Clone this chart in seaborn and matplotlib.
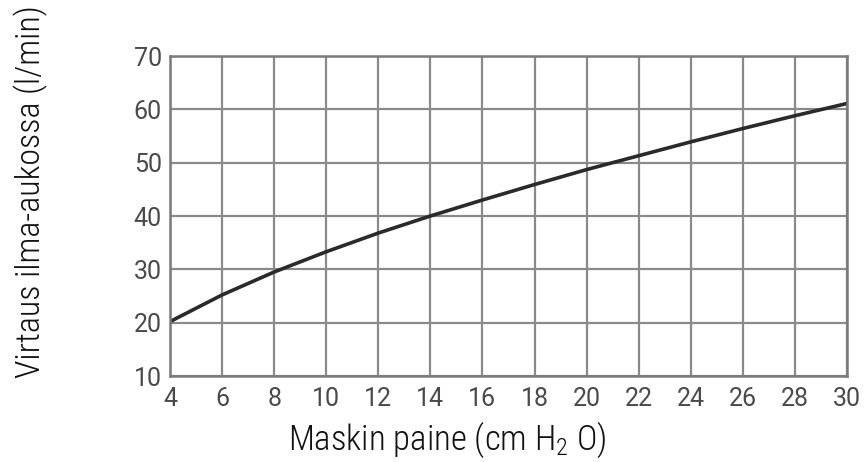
import matplotlib
matplotlib.use("Agg")
import matplotlib.pyplot as plt
import seaborn as sns
import pandas as pd

# Arvot luettu kuvasta
paine = [4, 6, 8, 10, 12, 14, 16, 18, 20, 22, 24, 26, 28, 30]
virtaus = [20.2, 25.2, 29.5, 33.3, 36.8, 40.0, 43.0, 45.9, 48.7, 51.3, 53.9, 56.4, 58.8, 61.1]
x_ticks = list(range(4, 31, 2))
y_ticks = list(range(10, 71, 10))

df = pd.DataFrame({"paine": paine, "virtaus": virtaus})

sns.set_style("white")
plt.rcParams["font.family"] = ["Roboto Condensed", "DejaVu Sans"]
plt.rcParams["mathtext.fontset"] = "custom"
plt.rcParams["mathtext.rm"] = "Roboto Condensed:light"
plt.rcParams["mathtext.default"] = "rm"

fig = plt.figure(figsize=(8.65, 4.62), dpi=100)
ax = fig.add_axes([170 / 865, 1 - 376 / 462, 677 / 865, 320 / 462])

sns.lineplot(data=df, x="paine", y="virtaus", color="#2a2a2a", linewidth=2.6, ax=ax)

ax.set_xlim(4, 30)
ax.set_ylim(10, 70)
ax.set_xticks(x_ticks)
ax.set_yticks(y_ticks)
ax.grid(True, color="#8a8a8a", linewidth=1.6)
ax.set_axisbelow(True)
for s in ax.spines.values():
    s.set_color("#7a7a7a")
    s.set_linewidth(1.8)

ax.tick_params(length=0, labelcolor="#4a4a4a")
ax.tick_params(axis="y", pad=6)
ax.tick_params(axis="x", pad=8)
for lab in ax.get_xticklabels() + ax.get_yticklabels():
    lab.set_family(["Roboto", "DejaVu Sans"])
    lab.set_fontsize(18)

ax.set_xlabel("Maskin paine (cm H$_2$ O)", fontsize=25, fontweight="light", color="#111111")
ax.set_ylabel("Virtaus ilma-aukossa (l/min)", fontsize=24.5, fontweight="light", color="#111111")
ax.xaxis.set_label_coords(0.409, -0.137)
ax.yaxis.set_label_coords(-0.18, 0.575)

fig.savefig("out.png", dpi=100)
